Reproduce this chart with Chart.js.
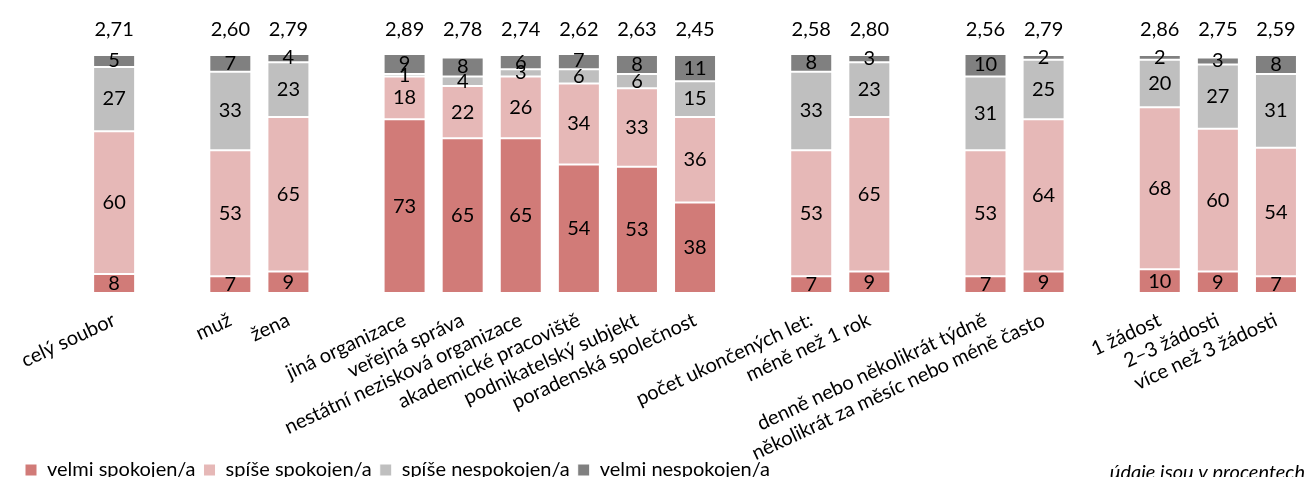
<!DOCTYPE html>
<html>
<head>
<meta charset="utf-8">
<script src="https://cdn.jsdelivr.net/npm/chart.js@4.4.0/dist/chart.umd.min.js"></script>
<style>
  html, body { margin: 0; padding: 0; background: #fff; overflow: hidden; }
  #wrap { width: 1309px; height: 477px; }
</style>
</head>
<body>
<div id="wrap"><canvas id="chart" width="1309" height="477"></canvas></div>
<script>
// Empty strings are spacer slots between the groups of bars.
const categories = ['', 'celý soubor', '', 'muž', 'žena', '',
  'jiná organizace', 'veřejná správa', 'nestátní nezisková organizace',
  'akademické pracoviště', 'podnikatelský subjekt', 'poradenská společnost', '',
  'počet ukončených let:', 'méně než 1 rok', '',
  'denně nebo několikrát týdně', 'několikrát za měsíc nebo méně často', '',
  '1 žádost', '2–3 žádosti', 'více než 3 žádosti'];

const velmiSpokojen   = [null, 8, null, 7, 9, null, 73, 65, 65, 54, 53, 38, null, 7, 9, null, 7, 9, null, 10, 9, 7];
const spiseSpokojen   = [null, 60, null, 53, 65, null, 18, 22, 26, 34, 33, 36, null, 53, 65, null, 53, 64, null, 68, 60, 54];
const spiseNespokojen = [null, 27, null, 33, 23, null, 1, 4, 3, 6, 6, 15, null, 33, 23, null, 31, 25, null, 20, 27, 31];
const velmiNespokojen = [null, 5, null, 7, 4, null, 9, 8, 6, 7, 8, 11, null, 8, 3, null, 10, 2, null, 2, 3, 8];

// Mean score per bar, printed above each column
const prumer = [null, '2,71', null, '2,60', '2,79', null, '2,89', '2,78', '2,74', '2,62', '2,63', '2,45', null,
  '2,58', '2,80', null, '2,56', '2,79', null, '2,86', '2,75', '2,59'];

const seriesNames = ['velmi spokojen/a', 'spíše spokojen/a', 'spíše nespokojen/a', 'velmi nespokojen/a'];
const seriesColors = ['#D17B78', '#E6B8B7', '#BFBFBF', '#808080'];
const poznamka = 'údaje jsou v procentech';

const FONT = 'Lato, "Open Sans", sans-serif';
const FSIZE = 20;

// Long rotated category names run down past the axis box into the legend row;
// stretch the axis clip region to the canvas bottom so they are not cut.
const tickRoom = {
  id: 'tickRoom',
  afterLayout(chart) {
    chart.scales.x.bottom = chart.height;
  }
};

const labelPlugin = {
  id: 'labelPlugin',
  afterDatasetsDraw(chart) {
    const ctx = chart.ctx;
    ctx.save();
    ctx.font = FSIZE + 'px ' + FONT;
    ctx.fillStyle = '#000';
    ctx.textAlign = 'center';
    ctx.textBaseline = 'middle';
    chart.data.datasets.forEach((ds, di) => {
      const meta = chart.getDatasetMeta(di);
      meta.data.forEach((el, i) => {
        const v = ds.data[i];
        if (v === null || v === undefined) return;
        const p = el.getProps(['x', 'y', 'base'], true);
        ctx.fillText(String(v), p.x, (p.y + p.base) / 2);
      });
    });
    const meta0 = chart.getDatasetMeta(0);
    prumer.forEach((txt, i) => {
      if (!txt) return;
      ctx.fillText(txt, meta0.data[i].x, chart.chartArea.top - 25);
    });
    ctx.font = 'italic ' + FSIZE + 'px ' + FONT;
    ctx.textAlign = 'right';
    ctx.fillText(poznamka, chart.width - 4, 473);
    ctx.restore();
  }
};

const seriesData = [velmiSpokojen, spiseSpokojen, spiseNespokojen, velmiNespokojen];

new Chart(document.getElementById('chart'), {
  type: 'bar',
  data: {
    labels: categories,
    datasets: seriesData.map((d, i) => ({
      label: seriesNames[i],
      data: d,
      backgroundColor: seriesColors[i],
      borderColor: '#FFFFFF',
      borderWidth: 1,
      borderSkipped: false,
      barPercentage: 0.723,
      categoryPercentage: 1.0
    }))
  },
  options: {
    responsive: false,
    animation: false,
    devicePixelRatio: 1,
    layout: { padding: { top: 55, left: 17, right: 4, bottom: 0 } },
    plugins: {
      tooltip: { enabled: false },
      legend: {
        position: 'bottom',
        align: 'start',
        maxHeight: 25,
        labels: {
          boxWidth: 12,
          boxHeight: 12,
          padding: 8,
          color: '#000',
          font: { family: FONT, size: FSIZE }
        }
      }
    },
    scales: {
      x: {
        stacked: true,
        grid: { display: false, drawTicks: false },
        border: { display: false },
        ticks: {
          autoSkip: false,
          maxRotation: 25,
          minRotation: 25,
          padding: 15,
          color: '#000',
          font: { family: FONT, size: FSIZE }
        },
        afterFit(scale) { scale.height = 159; }
      },
      y: {
        stacked: true,
        min: 0,
        max: 100,
        grid: { display: false, drawTicks: false },
        border: { display: false },
        ticks: { display: false },
        afterFit(scale) { scale.width = 10; }
      }
    }
  },
  plugins: [tickRoom, labelPlugin]
});
</script>
</body>
</html>
